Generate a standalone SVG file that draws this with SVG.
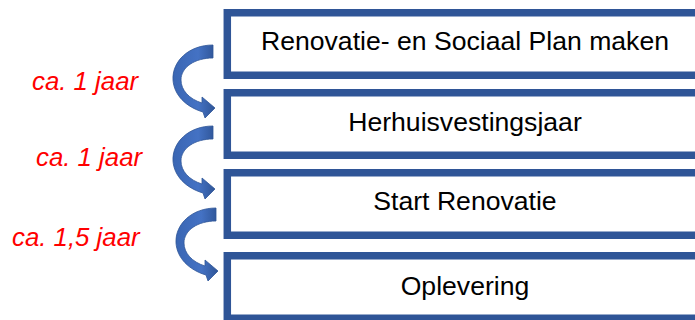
<svg xmlns="http://www.w3.org/2000/svg" width="695" height="320" viewBox="0 0 695 320">
<style>
.box{fill:#ffffff;stroke:#2F5597;stroke-width:7.5}
.lbl{font-family:"Liberation Sans",Arial,sans-serif;font-size:26.6px;fill:#000000;text-anchor:middle}
.dur{font-family:"Liberation Sans",Arial,sans-serif;font-size:25.8px;font-style:italic;fill:#FF0000}
.arr{fill:url(#ag);stroke:#2F5597;stroke-width:0.8}
</style>
<defs>
<linearGradient id="ag" x1="0" y1="0" x2="1" y2="0">
<stop offset="0" stop-color="#3A66B3"/>
<stop offset="0.6" stop-color="#4472C4"/>
<stop offset="1" stop-color="#2F5597"/>
</linearGradient>
<path id="carrow" d="M0,0 C-24,0 -41,16 -40,35 C-39,50 -27,62 -10,67 L-8,73 L2,63 L-11,52 L-11,58 C-24,54 -32,45 -32,35 C-32,22 -18,13 0,13 Z"/>
</defs>
<rect width="695" height="320" fill="#ffffff"/>
<g id="box1"><rect class="box" x="227.3" y="12.75" width="480" height="62.5"/><text class="lbl" x="465" y="50">Renovatie- en Sociaal Plan maken</text></g>
<g id="box2"><rect class="box" x="227.3" y="92.75" width="480" height="62.5"/><text class="lbl" x="465" y="131">Herhuisvestingsjaar</text></g>
<g id="box3"><rect class="box" x="227.3" y="172.75" width="480" height="62.5"/><text class="lbl" x="465" y="210">Start Renovatie</text></g>
<g id="box4"><rect class="box" x="227.3" y="255.75" width="480" height="62.5"/><text class="lbl" x="465" y="295">Oplevering</text></g>
<g id="connectors">
<use href="#carrow" class="arr" transform="translate(213,45)"/>
<use href="#carrow" class="arr" transform="translate(213,126)"/>
<use href="#carrow" class="arr" transform="translate(216,208)"/>
</g>
<g id="durations">
<text class="dur" x="32" y="90">ca. 1 jaar</text>
<text class="dur" x="36" y="166">ca. 1 jaar</text>
<text class="dur" x="12" y="246">ca. 1,5 jaar</text>
</g>
</svg>
